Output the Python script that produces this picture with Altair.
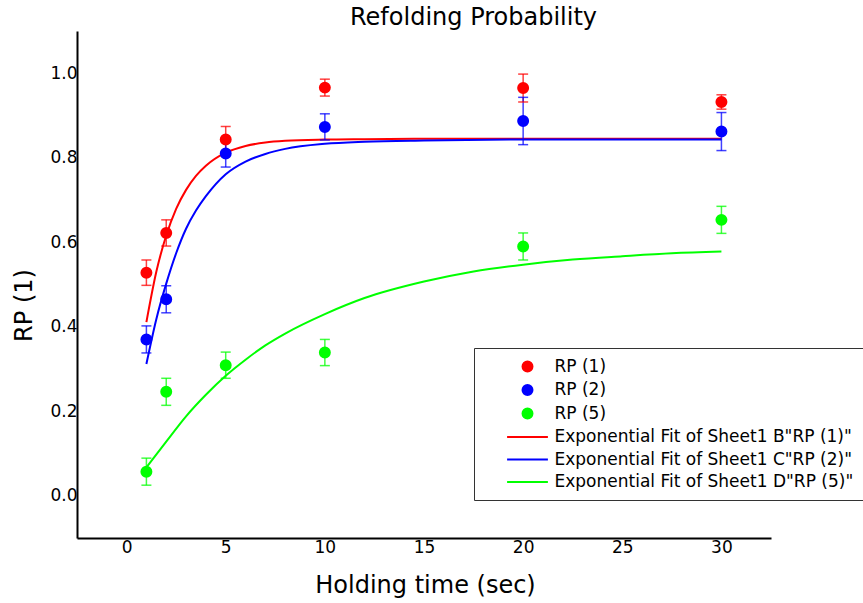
import altair as alt
import pandas as pd

# ---- data ----
hold_time = [1, 2, 5, 10, 20, 30]
rp1 = [0.528, 0.622, 0.843, 0.966, 0.965, 0.932]
rp1_err = [0.030, 0.031, 0.031, 0.020, 0.033, 0.017]
rp2 = [0.370, 0.465, 0.810, 0.873, 0.887, 0.862]
rp2_err = [0.032, 0.032, 0.032, 0.031, 0.056, 0.045]
rp5 = [0.057, 0.246, 0.309, 0.339, 0.590, 0.653]
rp5_err = [0.032, 0.032, 0.031, 0.031, 0.032, 0.032]

fit_x_fast = [1, 1.5, 2, 2.5, 3, 3.5, 4, 5, 6, 7, 8, 10, 12, 15, 20, 25, 30]
fit_rp1 = [0.411, 0.530, 0.616, 0.679, 0.724, 0.757, 0.781, 0.812, 0.828,
           0.836, 0.840, 0.843, 0.844, 0.845, 0.845, 0.845, 0.845]
fit_rp2 = [0.312, 0.418, 0.502, 0.574, 0.632, 0.675, 0.709, 0.761, 0.791,
           0.809, 0.821, 0.833, 0.838, 0.841, 0.843, 0.843, 0.843]
fit_x_slow = [1, 2, 3, 4, 5, 6, 7, 8, 10, 12, 15, 17.5, 20, 22.5, 25, 27.5, 30]
fit_rp5 = [0.067, 0.128, 0.188, 0.239, 0.284, 0.322, 0.356, 0.384, 0.430,
           0.468, 0.507, 0.531, 0.547, 0.559, 0.567, 0.574, 0.578]

point_names = ["RP (1)", "RP (2)", "RP (5)"]
fit_names = ['Exponential Fit of Sheet1 B"RP (1)"',
             'Exponential Fit of Sheet1 C"RP (2)"',
             'Exponential Fit of Sheet1 D"RP (5)"']
series_colors = ["#ff0000", "#0000ff", "#00ff00"]
x_ticks = [0, 5, 10, 15, 20, 25, 30]
y_ticks = [0.0, 0.2, 0.4, 0.6, 0.8, 1.0]

# ---- tables ----
rows = []
for name, ys, es in zip(point_names, [rp1, rp2, rp5], [rp1_err, rp2_err, rp5_err]):
    for x, y, e in zip(hold_time, ys, es):
        rows.append({"series": name, "t": x, "rp": y, "lo": y - e, "hi": y + e})
pts = pd.DataFrame(rows)

caps = pd.concat([
    pts[["series", "t", "lo"]].rename(columns={"lo": "cap"}),
    pts[["series", "t", "hi"]].rename(columns={"hi": "cap"}),
])

frows = []
for name, xs, ys in zip(fit_names, [fit_x_fast, fit_x_fast, fit_x_slow], [fit_rp1, fit_rp2, fit_rp5]):
    for x, y in zip(xs, ys):
        frows.append({"series": name, "t": x, "rp": y})
fits = pd.DataFrame(frows)

all_names = point_names + fit_names
all_colors = series_colors + series_colors
circle_path = "M0.83,0A0.83,0.83,0,1,1,-0.83,0A0.83,0.83,0,1,1,0.83,0Z"
line_path = "M-3.4,0H3.4"

FONT = "DejaVu Sans"

color_scale = alt.Scale(domain=all_names, range=all_colors)
stroke_scale = alt.Scale(domain=all_names, range=all_colors)
shape_scale = alt.Scale(domain=all_names, range=[circle_path] * 3 + [line_path] * 3)

x_enc = alt.X("t:Q", scale=alt.Scale(domain=[-2.5, 32.5], nice=False, zero=False),
              axis=alt.Axis(values=x_ticks, format="d", title="Holding time (sec)",
                            titleX=348, titleY=54, titleBaseline="alphabetic",
                            titleAlign="center", labelPadding=1))
y_enc = alt.Y("rp:Q", scale=alt.Scale(domain=[-0.1, 1.1], nice=False, zero=False),
              axis=alt.Axis(values=y_ticks, format=".1f", title="RP (1)",
                            titleX=-46, titleY=274, titleAngle=270,
                            titleBaseline="alphabetic", titleAlign="center",
                            labelPadding=0))

legend = alt.Legend(title=None, orient="none", legendX=397, legendY=317,
                    padding=10, rowPadding=4.5, symbolSize=144,
                    symbolOffset=35, labelOffset=18.5, labelLimit=0,
                    symbolStrokeWidth=2,
                    labelFont=FONT, labelFontSize=17, labelColor="black",
                    strokeColor="#333333", fillColor="white")

fit_layer = alt.Chart(fits).mark_line(strokeWidth=2, interpolate="monotone").encode(
    x=x_enc, y=y_enc,
    stroke=alt.Stroke("series:N", scale=stroke_scale, legend=None),
)

bar_layer = alt.Chart(pts).mark_rule(strokeWidth=1.5, opacity=0.75).encode(
    x="t:Q", y="lo:Q", y2="hi:Q",
    color=alt.Color("series:N", scale=color_scale, legend=None),
)

cap_layer = alt.Chart(caps).mark_tick(orient="horizontal", size=10, thickness=1.5,
                                      opacity=0.75).encode(
    x="t:Q", y="cap:Q",
    color=alt.Color("series:N", scale=color_scale, legend=None),
)

point_layer = alt.Chart(pts).mark_point(filled=True, opacity=1, size=144, strokeWidth=2).encode(
    x="t:Q", y="rp:Q",
    color=alt.Color("series:N", scale=color_scale, legend=legend),
    stroke=alt.Stroke("series:N", scale=stroke_scale, legend=legend),
    shape=alt.Shape("series:N", scale=shape_scale, legend=legend),
)

chart = alt.layer(fit_layer, bar_layer, cap_layer, point_layer).resolve_legend(
    color="independent", stroke="independent", shape="independent"
).properties(
    width=694, height=507,
    autosize="none",
    padding={"left": 77, "top": 31, "right": 92, "bottom": 65},
    title=alt.TitleParams("Refolding Probability", font=FONT, fontSize=24,
                          fontWeight="normal", color="black", dx=49.5,
                          offset=4, dy=22, baseline="alphabetic"),
).configure(font=FONT).configure_view(stroke=None).configure_axis(
    grid=False, ticks=False, domainColor="black", domainWidth=2,
    labelFont=FONT, labelFontSize=17, labelColor="black",
    titleFont=FONT, titleFontSize=24, titleFontWeight="normal", titleColor="black",
)

chart.save("out.html", embed_options={"renderer": "svg", "actions": False})
